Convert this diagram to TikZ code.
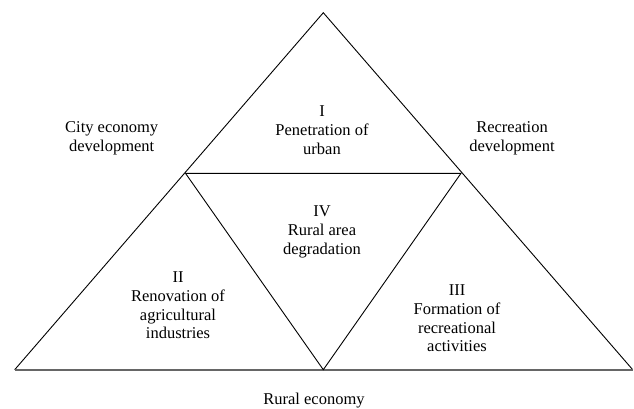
\documentclass[tikz,border=0pt]{standalone}
\usepackage{fontspec}
\setmainfont{Liberation Serif}
\tikzset{
  edgeline/.style={line width=0.9pt, color=black},
  baseline/.style={line width=1.6pt, color=black!60},
  lbl/.style={align=center, font=\fontsize{16.5}{18.7}\selectfont, inner sep=0pt}
}
\begin{document}
\begin{tikzpicture}[x=1pt, y=-1pt]
		%%%%% START %%%%%
		\useasboundingbox (0, 0) rectangle (634, 408);
		
		\coordinate (apex) at (323.3, 12.7);
		\coordinate (left) at (14.7, 369.7);
		\coordinate (right) at (632.7, 369.7);
		\coordinate (midl) at (185.5, 173.3);
		\coordinate (midr) at (461, 173.3);
		\coordinate (midb) at (323.3, 369.7);
		
		% outer triangle
		\draw[edgeline, line join=miter] (left) -- (apex) -- (right);
		\draw[baseline] (left) -- (right);
		
		% inner triangle
		\draw[edgeline] (midl) -- (midr) -- (midb) -- cycle;
		
		\node[lbl] (one) at (322, 130) {I\\Penetration of\\urban};
		\node[lbl] (four) at (322, 232) {IV\\Rural area\\degradation};
		\node[lbl] (two) at (178, 305.5) {II\\Renovation of\\agricultural\\industries};
		\node[lbl] (three) at (457, 318.5) {III\\Formation of\\recreational\\activities};
		
		\node[lbl] (city) at (111.7, 138) {City economy\\development};
		\node[lbl] (recr) at (512, 138) {Recreation\\development};
		\node[lbl] (rural) at (314, 400.5) {Rural economy};
		
		%%%%% END %%%%%
	\end{tikzpicture}
\end{document}
